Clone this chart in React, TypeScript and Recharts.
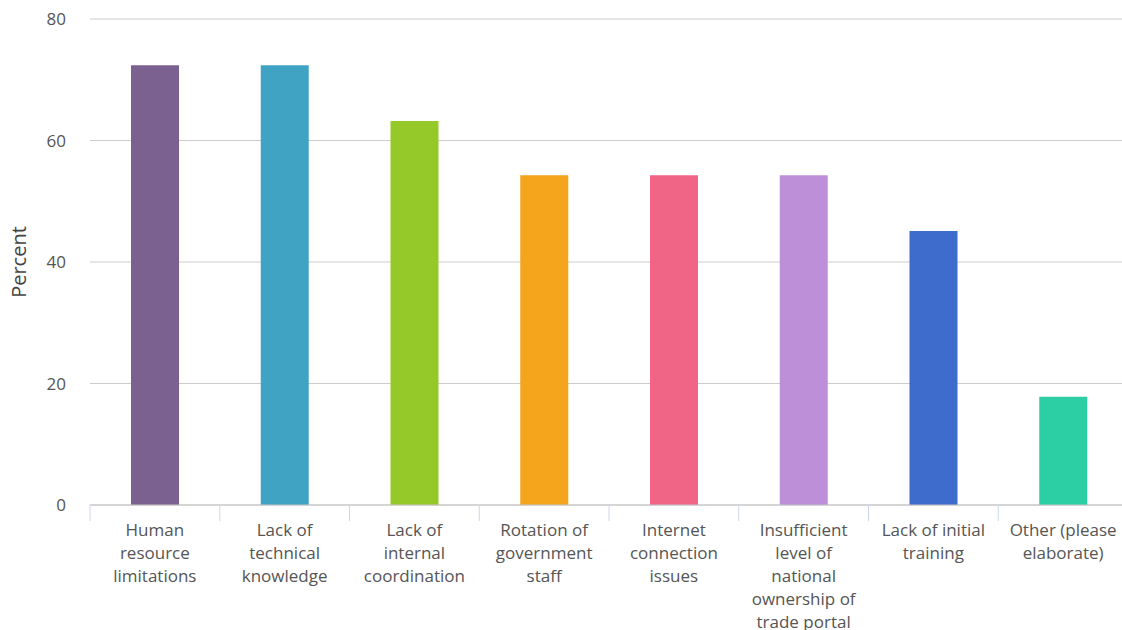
import { BarChart, Bar, XAxis, YAxis, CartesianGrid, Cell, Label } from "recharts";

// line breaks follow the wrapping in the reference
const categories = [
  "Human\nresource\nlimitations",
  "Lack of\ntechnical\nknowledge",
  "Lack of\ninternal\ncoordination",
  "Rotation of\ngovernment\nstaff",
  "Internet\nconnection\nissues",
  "Insufficient\nlevel of\nnational\nownership of\ntrade portal",
  "Lack of initial\ntraining",
  "Other (please\nelaborate)",
];

const percents = [72.4, 72.4, 63.2, 54.3, 54.3, 54.3, 45.1, 17.8];

const barColors = [
  "#7B6190",
  "#40A3C4",
  "#95C92A",
  "#F4A51B",
  "#F06585",
  "#BE8FD9",
  "#3D6CCD",
  "#2BCFA3",
];

const yTicks = [0, 20, 40, 60, 80];

const data = categories.map((name, i) => ({ name, value: percents[i] }));

const W = 1128;
const H = 630;
const AXIS_W = 90;
const band = (W - AXIS_W) / categories.length;
const FONT = "'Open Sans', sans-serif";

function CategoryTick(props: any) {
  const { x, y, payload, index } = props;
  const lines = String(payload.value).split("\n");
  return (
    <g>
      <line x1={x - band / 2} x2={x - band / 2} y1={y} y2={y + 16} stroke="#ccd6eb" />
      {index === categories.length - 1 && (
        <line x1={x + band / 2} x2={x + band / 2} y1={y} y2={y + 16} stroke="#ccd6eb" />
      )}
      <text textAnchor="middle" fill="#555" fontSize={17} fontFamily={FONT}>
        {lines.map((l, i) => (
          <tspan key={i} x={x} y={y + 31 + i * 23}>
            {l}
          </tspan>
        ))}
      </text>
    </g>
  );
}

export default function App() {
  return (
    <div
      style={{
        position: "absolute",
        left: 0,
        top: 0,
        width: 1122,
        height: H,
        overflow: "hidden",
        background: "#fff",
      }}
    >
      <BarChart
        width={W}
        height={H}
        data={data}
        margin={{ top: 19, right: 0, bottom: 0, left: 0 }}
      >
        <CartesianGrid vertical={false} stroke="#cccccc" />
        <XAxis
          dataKey="name"
          height={125}
          interval={0}
          tickLine={false}
          tickSize={0}
          tickMargin={0}
          stroke="#c4c4c4"
          tick={<CategoryTick />}
        />
        <YAxis
          width={AXIS_W}
          domain={[0, 80]}
          ticks={yTicks}
          axisLine={false}
          tickLine={false}
          tickSize={0}
          tickMargin={24}
          tick={{ fill: "#555", fontSize: 17, fontFamily: FONT }}
        >
          <Label
            content={({ viewBox }: any) => (
              <text
                x={26}
                y={viewBox.y + viewBox.height / 2}
                transform={`rotate(-90 26 ${viewBox.y + viewBox.height / 2})`}
                textAnchor="middle"
                fill="#444"
                fontSize={20}
                fontFamily={FONT}
              >
                Percent
              </text>
            )}
          />
        </YAxis>
        <Bar dataKey="value" barSize={48} isAnimationActive={false}>
          {data.map((d, i) => (
            <Cell key={d.name} fill={barColors[i]} />
          ))}
        </Bar>
      </BarChart>
    </div>
  );
}
